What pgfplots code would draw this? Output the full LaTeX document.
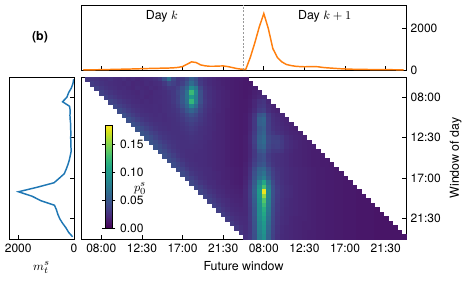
\documentclass[border=0pt]{standalone}
\usepackage{fontspec}
\setmainfont{TeX Gyre Heros}
\usepackage{pgfplots}
\pgfplotsset{compat=1.18}
\usetikzlibrary{calc}
\definecolor{mplorange}{RGB}{255,127,14}
\definecolor{mplblue}{RGB}{31,119,180}
\pgfplotsset{
  every axis/.append style={
    scale only axis,
    /pgf/number format/assume math mode=true,
    /pgf/number format/1000 sep={},
    tick label style={font=\fontsize{9}{10}\selectfont},
    label style={font=\fontsize{9.3}{11}\selectfont},
    tick align=inside,
    major tick length=3pt,
    axis line style={line width=0.6pt},
    every tick/.style={black, line width=0.5pt},
  }
}
\begin{document}
\begin{tikzpicture}
\useasboundingbox (0,0) rectangle (348.75pt,210pt);
\node[font=\bfseries\fontsize{9.3}{11}\selectfont] at (30pt,182.25pt) {(b)};
% top panel
\begin{axis}[at={(60.75pt,157.5pt)}, anchor=south west, width=243.75pt, height=48.75pt,
  xmin=-0.5, xmax=71.5, ymin=0, ymax=3120,
  xtick={4,13,22,31,40,49,58,67}, xticklabel=\empty, xtick pos=left,
  ytick={0,2000}, ytick pos=right, yticklabel pos=right]
\addplot[mplorange, line width=1.1pt] coordinates {
(0,5) (1,8) (2,10) (3,12) (4,15) (5,20) (6,25) (7,30) (8,35) (9,40) (10,45) (11,50)
(12,55) (13,65) (14,70) (15,75) (16,80) (17,85) (18,90) (19,95) (20,105) (21,125) (22,165) (23,280)
(24,390) (25,360) (26,245) (27,200) (28,180) (29,180) (30,190) (31,195) (32,165) (33,120) (34,70) (35,40)
(36,30) (37,600) (38,1300) (39,2070) (40,2710) (41,1990) (42,1030) (43,600) (44,390) (45,265) (46,215) (47,180)
(48,165) (49,155) (50,160) (51,165) (52,155) (53,125) (54,105) (55,90) (56,75) (57,60) (58,50) (59,40)
(60,35) (61,30) (62,28) (63,25) (64,22) (65,20) (66,18) (67,16) (68,14) (69,12) (70,10) (71,10)};
\draw[gray!80, dash pattern=on 1.5pt off 1.2pt, line width=0.5pt] (axis cs:35.5,0) -- (axis cs:35.5,3120);
\node[font=\fontsize{9.3}{11}\selectfont] at (axis cs:17.4,2590) {Day $k$};
\node[font=\fontsize{9.3}{11}\selectfont] at (axis cs:53.5,2590) {Day $k+1$};
\node[font=\fontsize{9.3}{11}\selectfont] at ($(rel axis cs:1,0.415)+(27.75pt,0)$) {$r_t^s$};
\end{axis}
% left panel
\begin{axis}[at={(6.75pt,30.75pt)}, anchor=south west, width=48.75pt, height=121.5pt,
  x dir=reverse, xmin=0, xmax=2330, ymin=-0.5, ymax=35.5, y dir=reverse,
  xtick={0,2000}, xtick pos=left, ytick={4,13,22,31}, yticklabel=\empty, ytick pos=right,
  xlabel={$m_t^s$}]
\addplot[mplblue, line width=1.1pt] coordinates {
(10,0) (40,1) (100,2) (195,3) (255,4) (410,5) (160,6) (135,7) (145,8) (135,9) (120,10) (120,11)
(110,12) (120,13) (110,14) (110,15) (100,16) (135,17) (170,18) (220,19) (280,20) (350,21) (530,22) (715,23)
(1320,24) (1990,25) (1500,26) (1180,27) (700,28) (630,29) (580,30) (510,31) (410,32) (290,33) (195,34) (50,35)};
\end{axis}
% heatmap
\begin{axis}[at={(60.75pt,30.75pt)}, anchor=south west, width=243.75pt, height=121.5pt,
  axis on top, xmin=-0.5, xmax=71.5, ymin=-0.5, ymax=35.5, y dir=reverse,
  xtick={4,13,22,31,40,49,58,67}, xticklabels={08:00,12:30,17:00,21:30,08:00,12:30,17:00,21:30}, xtick pos=left,
  ytick={4,13,22,31}, yticklabels={08:00,12:30,17:00,21:30}, ytick pos=right, yticklabel pos=right,
  xlabel={Future window}, ylabel={Window of day},
  colormap/viridis, point meta min=0, point meta max=0.185,
  colorbar, colorbar style={
    at={($(parent axis.south west)+(9.75pt,8.25pt)$)}, anchor=south west,
    width=5pt, height=77.25pt, scale only axis,
    ytick={0,0.05,0.1,0.15},
    yticklabel style={/pgf/number format/fixed, /pgf/number format/fixed zerofill, /pgf/number format/precision=2},
    tick align=outside, major tick length=2.5pt,
    axis line style={line width=0.5pt}}]
\addplot[scatter, only marks, mark=square*, mark size=1.6pt, point meta=explicit,
  scatter/use mapped color={draw=mapped color, fill=mapped color}, mark options={line width=0.25pt}]
  table[row sep=\\, x=c, y=r, meta=v] {c r v\\
1 0 .030\\ 2 0 .028\\ 3 0 .027\\ 4 0 .025\\ 5 0 .024\\ 6 0 .026\\ 7 0 .023\\ 8 0 .022\\ 9 0 .024\\ 10 0 .021\\ 11 0 .022\\ 12 0 .020\\ 13 0 .021\\ 14 0 .022\\ 15 0 .023\\ 16 0 .025\\ 17 0 .030\\ 18 0 .045\\ 19 0 .070\\ 20 0 .040\\ 21 0 .030\\ 22 0 .032\\ 23 0 .040\\ 24 0 .055\\ 25 0 .045\\ 26 0 .030\\ 27 0 .025\\ 28 0 .022\\ 29 0 .020\\ 30 0 .018\\ 31 0 .017\\ 32 0 .016\\ 33 0 .015\\ 34 0 .014\\ 35 0 .014\\ 36 0 .012\\
2 1 .032\\ 3 1 .029\\ 4 1 .027\\ 5 1 .025\\ 6 1 .024\\ 7 1 .023\\ 8 1 .022\\ 9 1 .021\\ 10 1 .022\\ 11 1 .020\\ 12 1 .021\\ 13 1 .020\\ 14 1 .022\\ 15 1 .021\\ 16 1 .023\\ 17 1 .024\\ 18 1 .030\\ 19 1 .040\\ 20 1 .035\\ 21 1 .030\\ 22 1 .035\\ 23 1 .048\\ 24 1 .065\\ 25 1 .050\\ 26 1 .032\\ 27 1 .026\\ 28 1 .022\\ 29 1 .020\\ 30 1 .019\\ 31 1 .017\\ 32 1 .016\\ 33 1 .015\\ 34 1 .014\\ 35 1 .013\\ 36 1 .012\\ 37 1 .012\\
3 2 .034\\ 4 2 .030\\ 5 2 .027\\ 6 2 .025\\ 7 2 .024\\ 8 2 .022\\ 9 2 .023\\ 10 2 .021\\ 11 2 .020\\ 12 2 .022\\ 13 2 .021\\ 14 2 .020\\ 15 2 .022\\ 16 2 .021\\ 17 2 .023\\ 18 2 .026\\ 19 2 .030\\ 20 2 .030\\ 21 2 .035\\ 22 2 .045\\ 23 2 .060\\ 24 2 .090\\ 25 2 .075\\ 26 2 .040\\ 27 2 .028\\ 28 2 .024\\ 29 2 .021\\ 30 2 .019\\ 31 2 .018\\ 32 2 .016\\ 33 2 .015\\ 34 2 .014\\ 35 2 .013\\ 36 2 .012\\ 37 2 .013\\ 38 2 .015\\
4 3 .036\\ 5 3 .031\\ 6 3 .028\\ 7 3 .026\\ 8 3 .024\\ 9 3 .023\\ 10 3 .022\\ 11 3 .021\\ 12 3 .020\\ 13 3 .022\\ 14 3 .021\\ 15 3 .020\\ 16 3 .022\\ 17 3 .023\\ 18 3 .024\\ 19 3 .027\\ 20 3 .030\\ 21 3 .038\\ 22 3 .048\\ 23 3 .070\\ 24 3 .125\\ 25 3 .085\\ 26 3 .045\\ 27 3 .030\\ 28 3 .025\\ 29 3 .022\\ 30 3 .020\\ 31 3 .018\\ 32 3 .017\\ 33 3 .015\\ 34 3 .014\\ 35 3 .013\\ 36 3 .012\\ 37 3 .013\\ 38 3 .016\\ 39 3 .018\\
5 4 .037\\ 6 4 .032\\ 7 4 .029\\ 8 4 .026\\ 9 4 .024\\ 10 4 .023\\ 11 4 .022\\ 12 4 .021\\ 13 4 .022\\ 14 4 .020\\ 15 4 .021\\ 16 4 .022\\ 17 4 .022\\ 18 4 .024\\ 19 4 .026\\ 20 4 .030\\ 21 4 .036\\ 22 4 .050\\ 23 4 .070\\ 24 4 .100\\ 25 4 .080\\ 26 4 .045\\ 27 4 .030\\ 28 4 .025\\ 29 4 .022\\ 30 4 .020\\ 31 4 .018\\ 32 4 .017\\ 33 4 .015\\ 34 4 .014\\ 35 4 .013\\ 36 4 .012\\ 37 4 .014\\ 38 4 .017\\ 39 4 .020\\ 40 4 .022\\
6 5 .038\\ 7 5 .034\\ 8 5 .030\\ 9 5 .027\\ 10 5 .025\\ 11 5 .023\\ 12 5 .022\\ 13 5 .021\\ 14 5 .022\\ 15 5 .021\\ 16 5 .022\\ 17 5 .023\\ 18 5 .024\\ 19 5 .026\\ 20 5 .030\\ 21 5 .037\\ 22 5 .050\\ 23 5 .068\\ 24 5 .122\\ 25 5 .080\\ 26 5 .045\\ 27 5 .031\\ 28 5 .026\\ 29 5 .022\\ 30 5 .020\\ 31 5 .018\\ 32 5 .017\\ 33 5 .015\\ 34 5 .014\\ 35 5 .013\\ 36 5 .013\\ 37 5 .015\\ 38 5 .020\\ 39 5 .026\\ 40 5 .028\\ 41 5 .020\\
7 6 .040\\ 8 6 .035\\ 9 6 .031\\ 10 6 .028\\ 11 6 .025\\ 12 6 .024\\ 13 6 .023\\ 14 6 .022\\ 15 6 .022\\ 16 6 .023\\ 17 6 .022\\ 18 6 .024\\ 19 6 .025\\ 20 6 .028\\ 21 6 .034\\ 22 6 .045\\ 23 6 .060\\ 24 6 .085\\ 25 6 .065\\ 26 6 .040\\ 27 6 .030\\ 28 6 .025\\ 29 6 .022\\ 30 6 .020\\ 31 6 .018\\ 32 6 .017\\ 33 6 .015\\ 34 6 .014\\ 35 6 .013\\ 36 6 .013\\ 37 6 .015\\ 38 6 .020\\ 39 6 .028\\ 40 6 .030\\ 41 6 .022\\ 42 6 .018\\
8 7 .042\\ 9 7 .037\\ 10 7 .032\\ 11 7 .028\\ 12 7 .026\\ 13 7 .024\\ 14 7 .023\\ 15 7 .022\\ 16 7 .023\\ 17 7 .022\\ 18 7 .024\\ 19 7 .025\\ 20 7 .027\\ 21 7 .030\\ 22 7 .038\\ 23 7 .050\\ 24 7 .060\\ 25 7 .050\\ 26 7 .036\\ 27 7 .028\\ 28 7 .024\\ 29 7 .021\\ 30 7 .020\\ 31 7 .018\\ 32 7 .016\\ 33 7 .015\\ 34 7 .014\\ 35 7 .013\\ 36 7 .013\\ 37 7 .016\\ 38 7 .022\\ 39 7 .032\\ 40 7 .034\\ 41 7 .024\\ 42 7 .020\\ 43 7 .018\\
9 8 .044\\ 10 8 .038\\ 11 8 .033\\ 12 8 .029\\ 13 8 .026\\ 14 8 .025\\ 15 8 .024\\ 16 8 .023\\ 17 8 .024\\ 18 8 .023\\ 19 8 .025\\ 20 8 .026\\ 21 8 .028\\ 22 8 .033\\ 23 8 .040\\ 24 8 .045\\ 25 8 .040\\ 26 8 .032\\ 27 8 .027\\ 28 8 .023\\ 29 8 .021\\ 30 8 .019\\ 31 8 .018\\ 32 8 .016\\ 33 8 .015\\ 34 8 .014\\ 35 8 .013\\ 36 8 .014\\ 37 8 .018\\ 38 8 .028\\ 39 8 .048\\ 40 8 .052\\ 41 8 .032\\ 42 8 .024\\ 43 8 .021\\ 44 8 .020\\
10 9 .045\\ 11 9 .040\\ 12 9 .034\\ 13 9 .030\\ 14 9 .027\\ 15 9 .025\\ 16 9 .024\\ 17 9 .024\\ 18 9 .023\\ 19 9 .024\\ 20 9 .025\\ 21 9 .027\\ 22 9 .030\\ 23 9 .035\\ 24 9 .038\\ 25 9 .035\\ 26 9 .030\\ 27 9 .026\\ 28 9 .023\\ 29 9 .021\\ 30 9 .019\\ 31 9 .018\\ 32 9 .016\\ 33 9 .015\\ 34 9 .014\\ 35 9 .013\\ 36 9 .014\\ 37 9 .019\\ 38 9 .030\\ 39 9 .055\\ 40 9 .060\\ 41 9 .034\\ 42 9 .025\\ 43 9 .022\\ 44 9 .020\\ 45 9 .019\\
11 10 .046\\ 12 10 .041\\ 13 10 .035\\ 14 10 .031\\ 15 10 .028\\ 16 10 .026\\ 17 10 .025\\ 18 10 .024\\ 19 10 .024\\ 20 10 .025\\ 21 10 .026\\ 22 10 .028\\ 23 10 .031\\ 24 10 .034\\ 25 10 .031\\ 26 10 .028\\ 27 10 .025\\ 28 10 .023\\ 29 10 .021\\ 30 10 .019\\ 31 10 .018\\ 32 10 .016\\ 33 10 .015\\ 34 10 .014\\ 35 10 .013\\ 36 10 .014\\ 37 10 .019\\ 38 10 .030\\ 39 10 .055\\ 40 10 .058\\ 41 10 .035\\ 42 10 .026\\ 43 10 .023\\ 44 10 .021\\ 45 10 .019\\ 46 10 .018\\
12 11 .047\\ 13 11 .042\\ 14 11 .036\\ 15 11 .032\\ 16 11 .028\\ 17 11 .026\\ 18 11 .025\\ 19 11 .024\\ 20 11 .025\\ 21 11 .025\\ 22 11 .027\\ 23 11 .029\\ 24 11 .031\\ 25 11 .029\\ 26 11 .026\\ 27 11 .024\\ 28 11 .022\\ 29 11 .021\\ 30 11 .019\\ 31 11 .018\\ 32 11 .016\\ 33 11 .015\\ 34 11 .014\\ 35 11 .013\\ 36 11 .014\\ 37 11 .019\\ 38 11 .030\\ 39 11 .050\\ 40 11 .055\\ 41 11 .035\\ 42 11 .027\\ 43 11 .024\\ 44 11 .022\\ 45 11 .020\\ 46 11 .018\\ 47 11 .017\\
13 12 .048\\ 14 12 .043\\ 15 12 .037\\ 16 12 .033\\ 17 12 .029\\ 18 12 .027\\ 19 12 .026\\ 20 12 .025\\ 21 12 .025\\ 22 12 .026\\ 23 12 .027\\ 24 12 .029\\ 25 12 .027\\ 26 12 .025\\ 27 12 .024\\ 28 12 .022\\ 29 12 .020\\ 30 12 .019\\ 31 12 .018\\ 32 12 .016\\ 33 12 .015\\ 34 12 .014\\ 35 12 .013\\ 36 12 .014\\ 37 12 .020\\ 38 12 .032\\ 39 12 .052\\ 40 12 .058\\ 41 12 .036\\ 42 12 .030\\ 43 12 .026\\ 44 12 .024\\ 45 12 .021\\ 46 12 .019\\ 47 12 .018\\ 48 12 .017\\
14 13 .048\\ 15 13 .043\\ 16 13 .037\\ 17 13 .032\\ 18 13 .029\\ 19 13 .027\\ 20 13 .026\\ 21 13 .025\\ 22 13 .025\\ 23 13 .026\\ 24 13 .027\\ 25 13 .026\\ 26 13 .025\\ 27 13 .023\\ 28 13 .022\\ 29 13 .020\\ 30 13 .019\\ 31 13 .018\\ 32 13 .016\\ 33 13 .015\\ 34 13 .014\\ 35 13 .013\\ 36 13 .015\\ 37 13 .021\\ 38 13 .034\\ 39 13 .055\\ 40 13 .062\\ 41 13 .040\\ 42 13 .035\\ 43 13 .034\\ 44 13 .030\\ 45 13 .024\\ 46 13 .021\\ 47 13 .019\\ 48 13 .018\\ 49 13 .017\\
15 14 .048\\ 16 14 .043\\ 17 14 .037\\ 18 14 .032\\ 19 14 .029\\ 20 14 .027\\ 21 14 .026\\ 22 14 .025\\ 23 14 .025\\ 24 14 .026\\ 25 14 .025\\ 26 14 .024\\ 27 14 .023\\ 28 14 .021\\ 29 14 .020\\ 30 14 .019\\ 31 14 .018\\ 32 14 .016\\ 33 14 .015\\ 34 14 .014\\ 35 14 .013\\ 36 14 .015\\ 37 14 .021\\ 38 14 .035\\ 39 14 .058\\ 40 14 .064\\ 41 14 .042\\ 42 14 .036\\ 43 14 .036\\ 44 14 .032\\ 45 14 .025\\ 46 14 .022\\ 47 14 .020\\ 48 14 .018\\ 49 14 .017\\ 50 14 .016\\
16 15 .047\\ 17 15 .042\\ 18 15 .036\\ 19 15 .031\\ 20 15 .028\\ 21 15 .026\\ 22 15 .025\\ 23 15 .025\\ 24 15 .025\\ 25 15 .024\\ 26 15 .024\\ 27 15 .022\\ 28 15 .021\\ 29 15 .020\\ 30 15 .019\\ 31 15 .018\\ 32 15 .016\\ 33 15 .015\\ 34 15 .014\\ 35 15 .013\\ 36 15 .015\\ 37 15 .020\\ 38 15 .033\\ 39 15 .055\\ 40 15 .060\\ 41 15 .040\\ 42 15 .034\\ 43 15 .035\\ 44 15 .031\\ 45 15 .025\\ 46 15 .022\\ 47 15 .020\\ 48 15 .018\\ 49 15 .017\\ 50 15 .016\\ 51 15 .016\\
17 16 .046\\ 18 16 .041\\ 19 16 .035\\ 20 16 .030\\ 21 16 .027\\ 22 16 .025\\ 23 16 .024\\ 24 16 .024\\ 25 16 .024\\ 26 16 .023\\ 27 16 .022\\ 28 16 .021\\ 29 16 .020\\ 30 16 .019\\ 31 16 .018\\ 32 16 .016\\ 33 16 .015\\ 34 16 .014\\ 35 16 .013\\ 36 16 .015\\ 37 16 .020\\ 38 16 .030\\ 39 16 .048\\ 40 16 .052\\ 41 16 .036\\ 42 16 .030\\ 43 16 .030\\ 44 16 .028\\ 45 16 .023\\ 46 16 .021\\ 47 16 .019\\ 48 16 .018\\ 49 16 .017\\ 50 16 .016\\ 51 16 .015\\ 52 16 .015\\
18 17 .045\\ 19 17 .040\\ 20 17 .034\\ 21 17 .029\\ 22 17 .026\\ 23 17 .024\\ 24 17 .024\\ 25 17 .023\\ 26 17 .023\\ 27 17 .022\\ 28 17 .021\\ 29 17 .020\\ 30 17 .019\\ 31 17 .018\\ 32 17 .016\\ 33 17 .015\\ 34 17 .014\\ 35 17 .013\\ 36 17 .015\\ 37 17 .020\\ 38 17 .030\\ 39 17 .042\\ 40 17 .045\\ 41 17 .032\\ 42 17 .027\\ 43 17 .025\\ 44 17 .024\\ 45 17 .022\\ 46 17 .020\\ 47 17 .019\\ 48 17 .018\\ 49 17 .017\\ 50 17 .016\\ 51 17 .015\\ 52 17 .015\\ 53 17 .014\\
19 18 .044\\ 20 18 .039\\ 21 18 .033\\ 22 18 .028\\ 23 18 .025\\ 24 18 .024\\ 25 18 .023\\ 26 18 .023\\ 27 18 .022\\ 28 18 .021\\ 29 18 .020\\ 30 18 .019\\ 31 18 .018\\ 32 18 .016\\ 33 18 .015\\ 34 18 .014\\ 35 18 .013\\ 36 18 .015\\ 37 18 .021\\ 38 18 .032\\ 39 18 .042\\ 40 18 .045\\ 41 18 .033\\ 42 18 .027\\ 43 18 .025\\ 44 18 .024\\ 45 18 .022\\ 46 18 .020\\ 47 18 .019\\ 48 18 .018\\ 49 18 .017\\ 50 18 .016\\ 51 18 .015\\ 52 18 .015\\ 53 18 .014\\ 54 18 .014\\
20 19 .043\\ 21 19 .038\\ 22 19 .032\\ 23 19 .027\\ 24 19 .025\\ 25 19 .024\\ 26 19 .023\\ 27 19 .022\\ 28 19 .021\\ 29 19 .020\\ 30 19 .019\\ 31 19 .018\\ 32 19 .016\\ 33 19 .015\\ 34 19 .014\\ 35 19 .013\\ 36 19 .016\\ 37 19 .022\\ 38 19 .035\\ 39 19 .046\\ 40 19 .050\\ 41 19 .036\\ 42 19 .028\\ 43 19 .025\\ 44 19 .024\\ 45 19 .022\\ 46 19 .020\\ 47 19 .019\\ 48 19 .018\\ 49 19 .017\\ 50 19 .016\\ 51 19 .015\\ 52 19 .015\\ 53 19 .014\\ 54 19 .014\\ 55 19 .013\\
21 20 .042\\ 22 20 .037\\ 23 20 .031\\ 24 20 .027\\ 25 20 .025\\ 26 20 .024\\ 27 20 .023\\ 28 20 .022\\ 29 20 .020\\ 30 20 .019\\ 31 20 .018\\ 32 20 .017\\ 33 20 .016\\ 34 20 .015\\ 35 20 .014\\ 36 20 .017\\ 37 20 .025\\ 38 20 .042\\ 39 20 .058\\ 40 20 .062\\ 41 20 .045\\ 42 20 .033\\ 43 20 .027\\ 44 20 .025\\ 45 20 .023\\ 46 20 .021\\ 47 20 .020\\ 48 20 .019\\ 49 20 .018\\ 50 20 .017\\ 51 20 .016\\ 52 20 .015\\ 53 20 .015\\ 54 20 .014\\ 55 20 .014\\ 56 20 .013\\
22 21 .041\\ 23 21 .036\\ 24 21 .030\\ 25 21 .027\\ 26 21 .025\\ 27 21 .023\\ 28 21 .022\\ 29 21 .021\\ 30 21 .020\\ 31 21 .018\\ 32 21 .017\\ 33 21 .016\\ 34 21 .015\\ 35 21 .014\\ 36 21 .017\\ 37 21 .026\\ 38 21 .045\\ 39 21 .062\\ 40 21 .070\\ 41 21 .050\\ 42 21 .035\\ 43 21 .028\\ 44 21 .025\\ 45 21 .023\\ 46 21 .021\\ 47 21 .020\\ 48 21 .019\\ 49 21 .018\\ 50 21 .017\\ 51 21 .016\\ 52 21 .015\\ 53 21 .015\\ 54 21 .014\\ 55 21 .014\\ 56 21 .013\\ 57 21 .013\\
23 22 .040\\ 24 22 .035\\ 25 22 .030\\ 26 22 .026\\ 27 22 .024\\ 28 22 .022\\ 29 22 .021\\ 30 22 .020\\ 31 22 .018\\ 32 22 .017\\ 33 22 .016\\ 34 22 .015\\ 35 22 .014\\ 36 22 .018\\ 37 22 .027\\ 38 22 .048\\ 39 22 .068\\ 40 22 .080\\ 41 22 .055\\ 42 22 .037\\ 43 22 .029\\ 44 22 .025\\ 45 22 .023\\ 46 22 .021\\ 47 22 .020\\ 48 22 .019\\ 49 22 .018\\ 50 22 .017\\ 51 22 .016\\ 52 22 .015\\ 53 22 .015\\ 54 22 .014\\ 55 22 .014\\ 56 22 .013\\ 57 22 .013\\ 58 22 .012\\
24 23 .040\\ 25 23 .034\\ 26 23 .029\\ 27 23 .026\\ 28 23 .023\\ 29 23 .022\\ 30 23 .020\\ 31 23 .019\\ 32 23 .018\\ 33 23 .016\\ 34 23 .015\\ 35 23 .014\\ 36 23 .019\\ 37 23 .030\\ 38 23 .052\\ 39 23 .085\\ 40 23 .110\\ 41 23 .070\\ 42 23 .042\\ 43 23 .030\\ 44 23 .026\\ 45 23 .023\\ 46 23 .021\\ 47 23 .020\\ 48 23 .019\\ 49 23 .018\\ 50 23 .017\\ 51 23 .016\\ 52 23 .015\\ 53 23 .015\\ 54 23 .014\\ 55 23 .014\\ 56 23 .013\\ 57 23 .013\\ 58 23 .012\\ 59 23 .012\\
25 24 .039\\ 26 24 .034\\ 27 24 .029\\ 28 24 .025\\ 29 24 .023\\ 30 24 .021\\ 31 24 .020\\ 32 24 .018\\ 33 24 .017\\ 34 24 .016\\ 35 24 .015\\ 36 24 .020\\ 37 24 .032\\ 38 24 .055\\ 39 24 .095\\ 40 24 .130\\ 41 24 .080\\ 42 24 .045\\ 43 24 .032\\ 44 24 .027\\ 45 24 .024\\ 46 24 .022\\ 47 24 .020\\ 48 24 .019\\ 49 24 .018\\ 50 24 .017\\ 51 24 .016\\ 52 24 .015\\ 53 24 .015\\ 54 24 .014\\ 55 24 .014\\ 56 24 .013\\ 57 24 .013\\ 58 24 .012\\ 59 24 .012\\ 60 24 .012\\
26 25 .038\\ 27 25 .033\\ 28 25 .028\\ 29 25 .025\\ 30 25 .022\\ 31 25 .021\\ 32 25 .019\\ 33 25 .018\\ 34 25 .017\\ 35 25 .016\\ 36 25 .021\\ 37 25 .033\\ 38 25 .058\\ 39 25 .100\\ 40 25 .180\\ 41 25 .085\\ 42 25 .046\\ 43 25 .033\\ 44 25 .027\\ 45 25 .024\\ 46 25 .022\\ 47 25 .020\\ 48 25 .019\\ 49 25 .018\\ 50 25 .017\\ 51 25 .016\\ 52 25 .015\\ 53 25 .015\\ 54 25 .014\\ 55 25 .014\\ 56 25 .013\\ 57 25 .013\\ 58 25 .012\\ 59 25 .012\\ 60 25 .012\\ 61 25 .011\\
27 26 .037\\ 28 26 .032\\ 29 26 .028\\ 30 26 .024\\ 31 26 .022\\ 32 26 .020\\ 33 26 .019\\ 34 26 .018\\ 35 26 .017\\ 36 26 .021\\ 37 26 .033\\ 38 26 .056\\ 39 26 .098\\ 40 26 .155\\ 41 26 .083\\ 42 26 .045\\ 43 26 .032\\ 44 26 .027\\ 45 26 .024\\ 46 26 .022\\ 47 26 .020\\ 48 26 .019\\ 49 26 .018\\ 50 26 .017\\ 51 26 .016\\ 52 26 .015\\ 53 26 .015\\ 54 26 .014\\ 55 26 .014\\ 56 26 .013\\ 57 26 .013\\ 58 26 .012\\ 59 26 .012\\ 60 26 .012\\ 61 26 .011\\ 62 26 .011\\
28 27 .036\\ 29 27 .031\\ 30 27 .027\\ 31 27 .024\\ 32 27 .022\\ 33 27 .020\\ 34 27 .019\\ 35 27 .018\\ 36 27 .021\\ 37 27 .032\\ 38 27 .054\\ 39 27 .095\\ 40 27 .135\\ 41 27 .080\\ 42 27 .044\\ 43 27 .031\\ 44 27 .026\\ 45 27 .023\\ 46 27 .021\\ 47 27 .020\\ 48 27 .019\\ 49 27 .018\\ 50 27 .017\\ 51 27 .016\\ 52 27 .015\\ 53 27 .015\\ 54 27 .014\\ 55 27 .014\\ 56 27 .013\\ 57 27 .013\\ 58 27 .012\\ 59 27 .012\\ 60 27 .012\\ 61 27 .011\\ 62 27 .011\\ 63 27 .011\\
29 28 .035\\ 30 28 .030\\ 31 28 .026\\ 32 28 .023\\ 33 28 .021\\ 34 28 .020\\ 35 28 .019\\ 36 28 .021\\ 37 28 .031\\ 38 28 .052\\ 39 28 .092\\ 40 28 .125\\ 41 28 .078\\ 42 28 .043\\ 43 28 .030\\ 44 28 .026\\ 45 28 .023\\ 46 28 .021\\ 47 28 .020\\ 48 28 .019\\ 49 28 .018\\ 50 28 .017\\ 51 28 .016\\ 52 28 .015\\ 53 28 .015\\ 54 28 .014\\ 55 28 .014\\ 56 28 .013\\ 57 28 .013\\ 58 28 .012\\ 59 28 .012\\ 60 28 .012\\ 61 28 .011\\ 62 28 .011\\ 63 28 .011\\ 64 28 .011\\
30 29 .034\\ 31 29 .029\\ 32 29 .025\\ 33 29 .022\\ 34 29 .021\\ 35 29 .020\\ 36 29 .021\\ 37 29 .030\\ 38 29 .050\\ 39 29 .090\\ 40 29 .115\\ 41 29 .075\\ 42 29 .042\\ 43 29 .030\\ 44 29 .025\\ 45 29 .022\\ 46 29 .021\\ 47 29 .020\\ 48 29 .019\\ 49 29 .018\\ 50 29 .017\\ 51 29 .016\\ 52 29 .015\\ 53 29 .015\\ 54 29 .014\\ 55 29 .014\\ 56 29 .013\\ 57 29 .013\\ 58 29 .012\\ 59 29 .012\\ 60 29 .012\\ 61 29 .011\\ 62 29 .011\\ 63 29 .011\\ 64 29 .011\\ 65 29 .010\\
31 30 .033\\ 32 30 .028\\ 33 30 .024\\ 34 30 .022\\ 35 30 .021\\ 36 30 .021\\ 37 30 .030\\ 38 30 .050\\ 39 30 .090\\ 40 30 .110\\ 41 30 .072\\ 42 30 .041\\ 43 30 .029\\ 44 30 .025\\ 45 30 .022\\ 46 30 .021\\ 47 30 .020\\ 48 30 .019\\ 49 30 .018\\ 50 30 .017\\ 51 30 .016\\ 52 30 .015\\ 53 30 .015\\ 54 30 .014\\ 55 30 .014\\ 56 30 .013\\ 57 30 .013\\ 58 30 .012\\ 59 30 .012\\ 60 30 .012\\ 61 30 .011\\ 62 30 .011\\ 63 30 .011\\ 64 30 .011\\ 65 30 .010\\ 66 30 .010\\
32 31 .032\\ 33 31 .027\\ 34 31 .024\\ 35 31 .022\\ 36 31 .022\\ 37 31 .030\\ 38 31 .048\\ 39 31 .088\\ 40 31 .105\\ 41 31 .068\\ 42 31 .040\\ 43 31 .028\\ 44 31 .024\\ 45 31 .022\\ 46 31 .020\\ 47 31 .019\\ 48 31 .018\\ 49 31 .018\\ 50 31 .017\\ 51 31 .016\\ 52 31 .015\\ 53 31 .015\\ 54 31 .014\\ 55 31 .014\\ 56 31 .013\\ 57 31 .013\\ 58 31 .012\\ 59 31 .012\\ 60 31 .012\\ 61 31 .011\\ 62 31 .011\\ 63 31 .011\\ 64 31 .011\\ 65 31 .010\\ 66 31 .010\\ 67 31 .010\\
33 32 .031\\ 34 32 .026\\ 35 32 .023\\ 36 32 .022\\ 37 32 .029\\ 38 32 .047\\ 39 32 .085\\ 40 32 .100\\ 41 32 .065\\ 42 32 .039\\ 43 32 .028\\ 44 32 .024\\ 45 32 .022\\ 46 32 .020\\ 47 32 .019\\ 48 32 .018\\ 49 32 .017\\ 50 32 .017\\ 51 32 .016\\ 52 32 .015\\ 53 32 .015\\ 54 32 .014\\ 55 32 .014\\ 56 32 .013\\ 57 32 .013\\ 58 32 .012\\ 59 32 .012\\ 60 32 .012\\ 61 32 .011\\ 62 32 .011\\ 63 32 .011\\ 64 32 .011\\ 65 32 .010\\ 66 32 .010\\ 67 32 .010\\ 68 32 .010\\
34 33 .030\\ 35 33 .025\\ 36 33 .023\\ 37 33 .029\\ 38 33 .046\\ 39 33 .083\\ 40 33 .098\\ 41 33 .062\\ 42 33 .038\\ 43 33 .027\\ 44 33 .023\\ 45 33 .021\\ 46 33 .020\\ 47 33 .019\\ 48 33 .018\\ 49 33 .017\\ 50 33 .017\\ 51 33 .016\\ 52 33 .015\\ 53 33 .015\\ 54 33 .014\\ 55 33 .014\\ 56 33 .013\\ 57 33 .013\\ 58 33 .012\\ 59 33 .012\\ 60 33 .012\\ 61 33 .011\\ 62 33 .011\\ 63 33 .011\\ 64 33 .011\\ 65 33 .010\\ 66 33 .010\\ 67 33 .010\\ 68 33 .010\\ 69 33 .010\\
35 34 .029\\ 36 34 .024\\ 37 34 .029\\ 38 34 .045\\ 39 34 .080\\ 40 34 .095\\ 41 34 .060\\ 42 34 .037\\ 43 34 .027\\ 44 34 .023\\ 45 34 .021\\ 46 34 .020\\ 47 34 .019\\ 48 34 .018\\ 49 34 .017\\ 50 34 .016\\ 51 34 .016\\ 52 34 .015\\ 53 34 .015\\ 54 34 .014\\ 55 34 .014\\ 56 34 .013\\ 57 34 .013\\ 58 34 .012\\ 59 34 .012\\ 60 34 .012\\ 61 34 .011\\ 62 34 .011\\ 63 34 .011\\ 64 34 .011\\ 65 34 .010\\ 66 34 .010\\ 67 34 .010\\ 68 34 .010\\ 69 34 .010\\ 70 34 .010\\
36 35 .026\\ 37 35 .030\\ 38 35 .044\\ 39 35 .078\\ 40 35 .092\\ 41 35 .058\\ 42 35 .036\\ 43 35 .026\\ 44 35 .022\\ 45 35 .021\\ 46 35 .020\\ 47 35 .019\\ 48 35 .018\\ 49 35 .017\\ 50 35 .016\\ 51 35 .016\\ 52 35 .015\\ 53 35 .015\\ 54 35 .014\\ 55 35 .014\\ 56 35 .013\\ 57 35 .013\\ 58 35 .012\\ 59 35 .012\\ 60 35 .012\\ 61 35 .011\\ 62 35 .011\\ 63 35 .011\\ 64 35 .011\\ 65 35 .010\\ 66 35 .010\\ 67 35 .010\\ 68 35 .010\\ 69 35 .010\\ 70 35 .010\\ 71 35 .010\\
};
\draw[gray!45, dash pattern=on 1.5pt off 1pt, line width=0.5pt] (axis cs:35.5,-0.5) -- (axis cs:35.5,35.5);
\node[font=\fontsize{9.3}{11}\selectfont, anchor=west, inner sep=1pt] at (axis cs:10.9,24.3) {$p_0^s$};
\end{axis}
\end{tikzpicture}
\end{document}
